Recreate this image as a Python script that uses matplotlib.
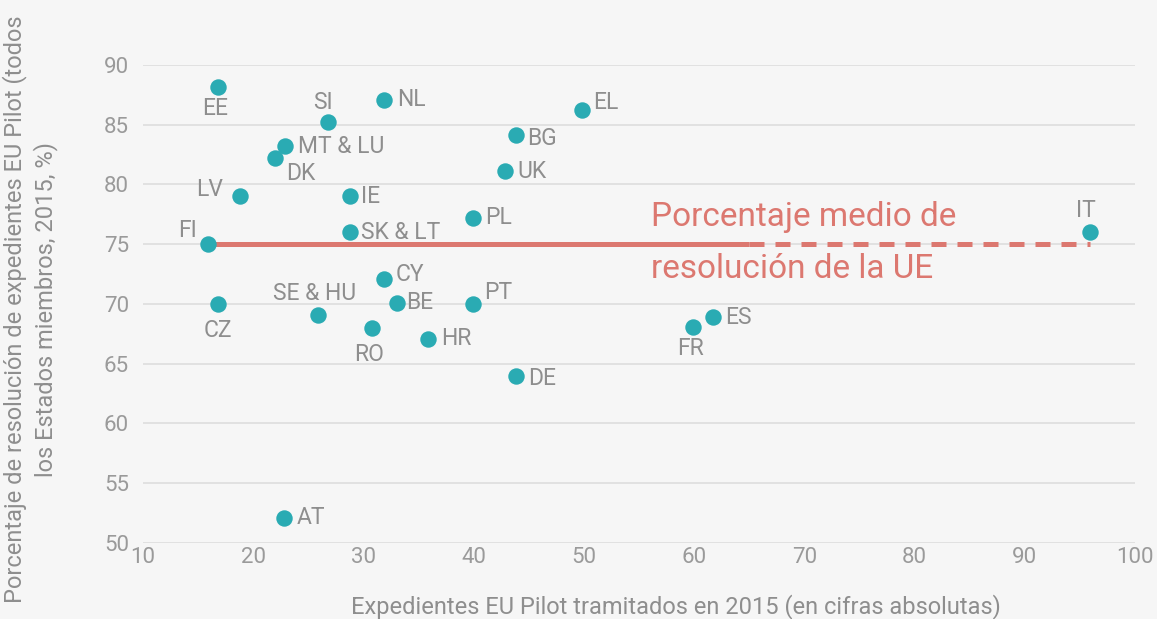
import numpy as np
import matplotlib
matplotlib.use('Agg')
import matplotlib.pyplot as plt

# datos
paises = ['EE', 'SI', 'NL', 'EL', 'BG', 'MT & LU', 'DK', 'UK', 'LV', 'IE',
          'PL', 'FI', 'SK & LT', 'IT', 'CY', 'SE & HU', 'BE', 'PT', 'CZ',
          'RO', 'HR', 'FR', 'ES', 'DE', 'AT']
expedientes = [16.8, 26.8, 31.9, 49.8, 43.8, 22.9, 22.0, 42.8, 18.8, 28.8,
               39.9, 15.9, 28.8, 95.9, 31.9, 25.9, 33.0, 39.9, 16.8,
               30.8, 35.9, 59.9, 61.7, 43.8, 22.8]
resolucion = [88.2, 85.2, 87.1, 86.2, 84.1, 83.2, 82.2, 81.1, 79.0, 79.0,
              77.2, 75.0, 76.0, 76.0, 72.1, 69.1, 70.1, 70.0, 70.0,
              68.0, 67.1, 68.1, 68.9, 64.0, 52.1]
media_ue = 75
corte_media = 65

# desplazamiento de etiquetas (puntos) y alineacion
pos = {
    'EE': (-2, -16, 'center'), 'SI': (-4, 14, 'center'), 'NL': (9, 0, 'left'),
    'EL': (8, 6, 'left'), 'BG': (8, -2, 'left'), 'MT & LU': (9, 0, 'left'),
    'DK': (8, -11, 'left'), 'UK': (9, 0, 'left'), 'LV': (-12, 5, 'right'),
    'IE': (8, 0, 'left'), 'PL': (9, 0, 'left'), 'FI': (-8, 10, 'right'),
    'SK & LT': (8, 0, 'left'), 'IT': (-3, 16, 'center'), 'CY': (8, 3, 'left'),
    'SE & HU': (-3, 15, 'center'), 'BE': (7, 0, 'left'), 'PT': (8, 8, 'left'),
    'CZ': (0, -19, 'center'), 'RO': (-2, -19, 'center'), 'HR': (9, 0, 'left'),
    'FR': (-2, -16, 'center'), 'ES': (9, 0, 'left'), 'DE': (9, -2, 'left'),
    'AT': (9, 0, 'left'),
}

plt.rcParams['font.family'] = ['Roboto', 'DejaVu Sans']

fondo = '#f6f6f6'
gris = '#8e8e8e'
teal = '#2aabb3'
salmon = '#dc7870'

fig = plt.figure(figsize=(11.57, 6.19), dpi=100, facecolor=fondo)
ax = fig.add_axes([0.1236, 0.1228, 0.8574, 0.7722], facecolor=fondo)

ax.set_xlim(10, 100)
ax.set_ylim(50, 90)
ax.set_xticks(np.arange(10, 101, 10))
ax.set_yticks(np.arange(50, 91, 5))
ax.grid(axis='y', color='#dddddd', linewidth=1.2)
ax.set_axisbelow(True)
for s in ax.spines.values():
    s.set_visible(False)
ax.tick_params(length=0, labelsize=16, colors='#9a9a9a')
ax.tick_params(axis='x', pad=3)
ax.tick_params(axis='y', pad=10)

# linea de la media
x0, x1 = min(expedientes), max(expedientes)
ax.plot([x0, corte_media], [media_ue, media_ue], color=salmon, lw=3.6,
        solid_capstyle='butt', zorder=2)
ax.plot([corte_media, x1], [media_ue, media_ue], color=salmon, lw=3.6,
        dashes=(3, 2.2), dash_capstyle='butt', zorder=2)
ax.text(56.1, 77.3, 'Porcentaje medio de', color=salmon, fontsize=24,
        va='center', ha='left')
ax.text(56.1, 72.9, 'resolución de la UE', color=salmon, fontsize=24,
        va='center', ha='left')

ax.scatter(expedientes, resolucion, s=140, color=teal, zorder=3,
           linewidths=0, clip_on=False)

for p, x, y in zip(paises, expedientes, resolucion):
    dx, dy, ha = pos[p]
    ax.annotate(p, (x, y), xytext=(dx, dy), textcoords='offset points',
                ha=ha, va='center', fontsize=16.5, color=gris)

fig.text(0.026, 0.5, 'Porcentaje de resolución de expedientes EU Pilot (todos\n'
         'los Estados miembros, 2015, %)', rotation=90, ha='center',
         va='center', fontsize=17, color=gris, linespacing=1.35)
fig.text(0.584, 0.02, 'Expedientes EU Pilot tramitados en 2015 (en cifras absolutas)',
         ha='center', va='center', fontsize=17, color=gris)

fig.savefig('out.png', dpi=100, facecolor=fondo)
